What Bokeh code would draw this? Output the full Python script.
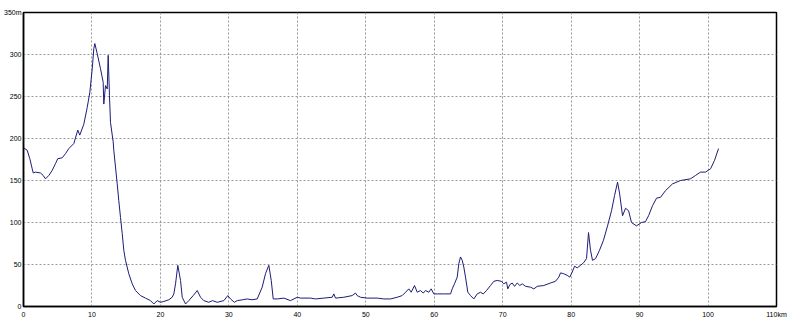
from bokeh.plotting import figure
from bokeh.models import Range1d, FixedTicker
from bokeh.embed import file_html
from bokeh.resources import INLINE

# distance along route (km) and elevation (m)
km = [0.0, 0.54, 0.92, 1.27, 1.42, 1.75, 2.48, 2.88, 3.21, 3.70, 4.19, 4.67, 5.01, 5.65,
      6.14, 6.62, 7.35, 7.93, 8.22, 8.81, 9.31, 9.69, 10.04, 10.27, 10.42, 10.77, 11.25,
      11.64, 11.73, 11.98, 12.23, 12.37, 12.56, 12.71, 13.1, 13.19, 13.44, 13.69, 13.92,
      14.17, 14.42, 14.65, 14.9, 15.38, 15.88, 16.36, 17.09, 17.82, 18.55, 19.04, 19.53,
      20.01, 20.5, 21.23, 21.72, 21.96, 22.21, 22.54, 22.94, 23.19, 23.67, 24.15, 24.79,
      25.38, 25.86, 26.34, 27.07, 27.6, 28.3, 29.26, 29.85, 30.24, 30.8, 31.22, 32.0,
      32.68, 33.4, 34.14, 34.87, 35.35, 35.84, 36.19, 36.48, 37.06, 38.03, 39.0, 39.98,
      40.47, 41.93, 42.66, 43.87, 45.1, 45.33, 45.58, 46.79, 48.02, 48.5, 48.75, 49.23,
      50.21, 51.67, 52.64, 53.62, 54.59, 55.32, 55.81, 56.29, 56.64, 57.12, 57.52, 58.0,
      58.39, 58.73, 59.21, 59.56, 59.94, 60.44, 61.5, 62.38, 62.63, 62.96, 63.36, 63.59,
      63.84, 64.09, 64.32, 64.57, 64.91, 65.3, 65.79, 66.28, 66.76, 67.16, 67.64, 68.22,
      68.71, 69.2, 69.79, 70.17, 70.56, 70.75, 71.04, 71.39, 71.73, 72.12, 72.51, 72.86,
      73.34, 74.07, 74.55, 75.05, 76.01, 76.99, 77.72, 78.2, 78.45, 78.93, 79.43, 79.81,
      80.16, 80.5, 80.89, 81.37, 81.81, 82.25, 82.54, 82.83, 83.12, 83.57, 84.15, 84.73,
      85.32, 85.9, 86.34, 86.78, 87.07, 87.51, 87.95, 88.39, 88.82, 89.55, 90.28, 90.86,
      91.31, 91.89, 92.48, 93.06, 93.79, 94.81, 95.98, 97.44, 98.17, 98.9, 99.63, 100.37,
      100.95, 101.53]
elev = [189, 186, 176, 164, 159, 160, 159, 156, 152, 156, 162, 170, 176, 177,
        182, 188, 194, 210, 204, 217, 237, 255, 283, 307, 313, 301, 283,
        267, 241, 263, 259, 299, 251, 219, 196, 186, 166, 146, 126,
        106, 87, 67, 55, 39, 27, 19, 13, 10, 7, 3, 7,
        5, 6, 8, 11, 15, 27, 49, 31, 11, 3, 7, 13,
        19, 11, 7, 5, 7, 5, 7, 13, 9, 5, 7, 8,
        9, 8, 9, 23, 39, 49, 31, 9, 9, 10, 7, 11,
        10, 10, 9, 10, 11, 15, 10, 11, 13, 16, 13, 11,
        10, 10, 9, 9, 11, 13, 17, 21, 17, 25, 17, 19,
        16, 19, 17, 21, 15, 15, 15, 15, 21, 27, 35, 51,
        59, 55, 47, 35, 17, 13, 9, 15, 17, 15, 19, 25,
        30, 31, 30, 27, 29, 21, 26, 28, 24, 28, 25, 27,
        24, 23, 21, 24, 25, 28, 30, 35, 40, 39, 37, 35,
        41, 48, 46, 49, 52, 57, 88, 67, 55, 57, 67, 79,
        96, 114, 132, 148, 135, 108, 117, 114, 100, 96, 100, 101,
        108, 120, 129, 130, 138, 146, 150, 152, 156, 160, 160, 164,
        174, 188]

x_ticks = [0, 10, 20, 30, 40, 50, 60, 70, 80, 90, 100, 110]
x_labels = {0: "0", 10: "10", 20: "20", 30: "30", 40: "40", 50: "50", 60: "60",
            70: "70", 80: "80", 90: "90", 100: "100", 110: "110km"}
y_ticks = [0, 50, 100, 150, 200, 250, 300, 350]
y_labels = {0: "0", 50: "50", 100: "100", 150: "150", 200: "200", 250: "250",
            300: "300", 350: "350m"}

p = figure(width=800, height=327, output_backend="svg", toolbar_location=None,
           x_range=Range1d(0, 110), y_range=Range1d(0, 350),
           min_border_left=23, min_border_right=24, min_border_top=12,
           min_border_bottom=21)
p.background_fill_color = "white"
p.border_fill_color = "white"
p.outline_line_color = "black"
p.outline_line_width = 1.5

p.line(km, elev, line_color="#1c1c78", line_width=1)

for ax in (p.xaxis, p.yaxis):
    ax.major_tick_line_color = None
    ax.minor_tick_line_color = None
    ax.major_tick_out = 0
    ax.major_tick_in = 0
    ax.minor_tick_out = 0
    ax.minor_tick_in = 0
    ax.major_label_text_font = "Liberation Sans"
    ax.major_label_text_font_size = "7px"
    ax.major_label_text_color = "black"
    ax.axis_line_color = "black"
    ax.axis_line_width = 1.5

p.xaxis.ticker = FixedTicker(ticks=x_ticks)
p.xaxis.major_label_overrides = x_labels
p.xaxis.major_label_standoff = 4
p.yaxis.ticker = FixedTicker(ticks=y_ticks)
p.yaxis.major_label_overrides = y_labels
p.yaxis.major_label_standoff = 2

for g in (p.xgrid, p.ygrid):
    g.grid_line_color = "#999999"
    g.grid_line_dash = "2 2"
    g.grid_line_width = 1
p.xgrid.ticker = FixedTicker(ticks=x_ticks[1:])
p.ygrid.ticker = FixedTicker(ticks=y_ticks[1:])

open("out.html", "w").write(file_html(p, INLINE))
